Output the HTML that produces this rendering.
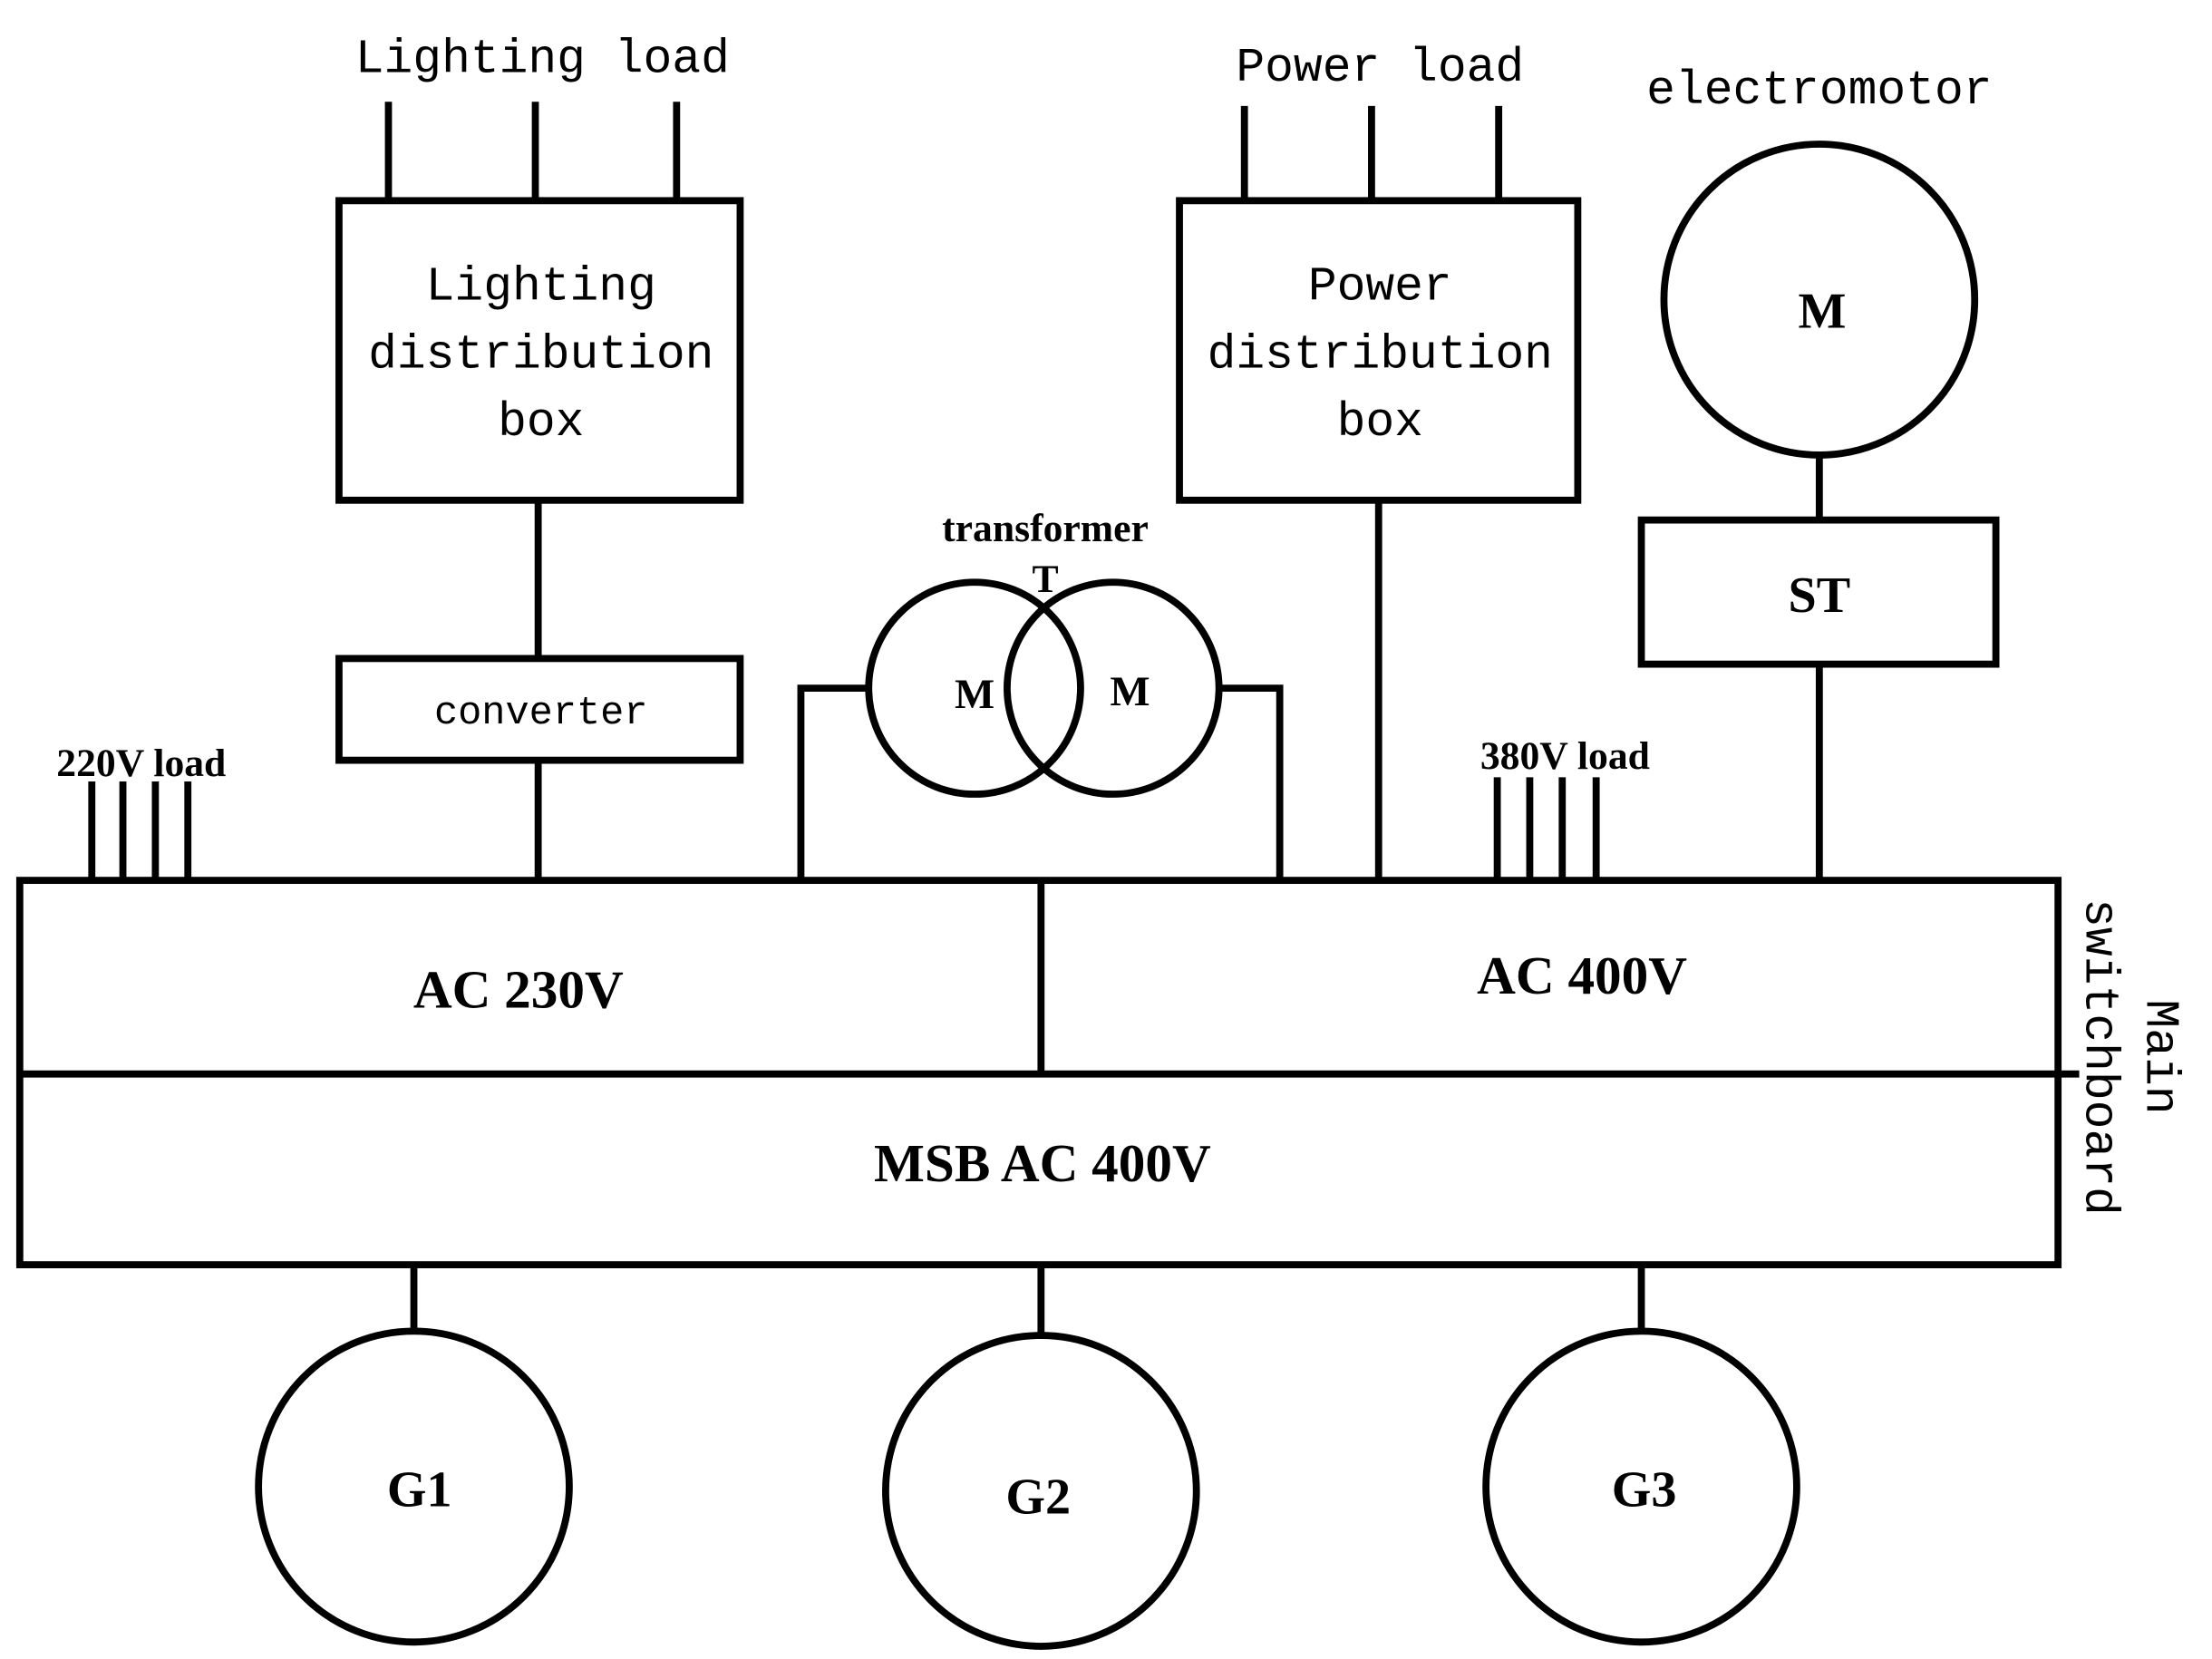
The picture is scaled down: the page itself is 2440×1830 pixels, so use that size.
<!DOCTYPE html>
<html><head><meta charset="utf-8"><style>
html,body{margin:0;padding:0;background:#fff;}
svg{display:block;}
.m{font-family:"Liberation Mono",monospace;font-size:34px;fill:#000;text-anchor:middle;}
.b{font-family:"Liberation Serif",serif;font-weight:bold;fill:#000;text-anchor:middle;}
</style></head><body>
<svg width="2440" height="1830" viewBox="0 0 1566 1174" preserveAspectRatio="none" xmlns="http://www.w3.org/2000/svg">
<g stroke="#000" stroke-width="5" fill="none">
<line x1="275" y1="72" x2="275" y2="142"/><line x1="379" y1="72" x2="379" y2="142"/><line x1="479" y1="72" x2="479" y2="142"/>
<rect x="240" y="142" width="284" height="212"/>
<line x1="381" y1="354" x2="381" y2="466"/>
<rect x="240" y="466" width="284" height="72"/>
<line x1="381" y1="538" x2="381" y2="623"/>
<line x1="881" y1="75" x2="881" y2="142"/><line x1="971" y1="75" x2="971" y2="142"/><line x1="1061" y1="75" x2="1061" y2="142"/>
<rect x="835" y="142" width="282" height="212"/>
<line x1="976" y1="354" x2="976" y2="623"/>
<circle cx="1288" cy="212" r="110"/>
<line x1="1288" y1="322" x2="1288" y2="368"/>
<rect x="1162" y="368" width="251" height="102"/>
<line x1="1288" y1="470" x2="1288" y2="623"/>
<circle cx="690" cy="487" r="75"/><circle cx="788" cy="487" r="75"/>
<polyline points="615,487 567,487 567,623"/>
<polyline points="863,487 906,487 906,623"/>
<line x1="65" y1="553" x2="65" y2="623"/><line x1="87" y1="553" x2="87" y2="623"/><line x1="110" y1="553" x2="110" y2="623"/><line x1="133" y1="553" x2="133" y2="623"/>
<line x1="1060" y1="550" x2="1060" y2="623"/><line x1="1083" y1="550" x2="1083" y2="623"/><line x1="1106" y1="550" x2="1106" y2="623"/><line x1="1130" y1="550" x2="1130" y2="623"/>
<rect x="14" y="623" width="1443" height="272"/>
<line x1="14" y1="760" x2="1472" y2="760"/>
<line x1="737" y1="623" x2="737" y2="760"/>
<line x1="293" y1="895" x2="293" y2="942"/><line x1="737" y1="895" x2="737" y2="945"/><line x1="1162" y1="895" x2="1162" y2="942"/>
<circle cx="293" cy="1052" r="110"/><circle cx="737" cy="1055" r="110"/><circle cx="1162" cy="1052" r="110"/>
</g>
<text class="m" x="384" y="51">Lighting load</text>
<text class="m" x="383" y="212">Lighting</text>
<text class="m" x="383" y="260">distribution</text>
<text class="m" x="383" y="308">box</text>
<text class="m" x="383" y="512" style="font-size:28px">converter</text>
<text class="m" x="977" y="57">Power load</text>
<text class="m" x="977" y="212">Power</text>
<text class="m" x="977" y="260">distribution</text>
<text class="m" x="977" y="308">box</text>
<text class="m" x="1288" y="73">electromotor</text>
<text class="b" x="1290" y="232" style="font-size:36px">M</text>
<text class="b" x="1288" y="433" style="font-size:36px">ST</text>
<text class="b" x="740" y="383" style="font-size:28px">transformer</text>
<text class="b" x="740" y="419" style="font-size:28px">T</text>
<text class="b" x="690" y="501" style="font-size:30px">M</text>
<text class="b" x="800" y="499" style="font-size:30px">M</text>
<text class="b" x="100" y="549" style="font-size:28px">220V load</text>
<text class="b" x="1108" y="544" style="font-size:28px">380V load</text>
<text class="b" x="367" y="713" style="font-size:38px">AC 230V</text>
<text class="b" x="1120" y="703" style="font-size:38px">AC 400V</text>
<text class="b" x="738" y="836" style="font-size:38px">MSB AC 400V</text>
<text class="m" transform="translate(1520,748) rotate(90)">Main</text>
<text class="m" transform="translate(1477,748) rotate(90)">switchboard</text>
<text class="b" x="297" y="1066" style="font-size:36px">G1</text>
<text class="b" x="735" y="1071" style="font-size:36px">G2</text>
<text class="b" x="1164" y="1066" style="font-size:36px">G3</text>
</svg>
</body></html>
